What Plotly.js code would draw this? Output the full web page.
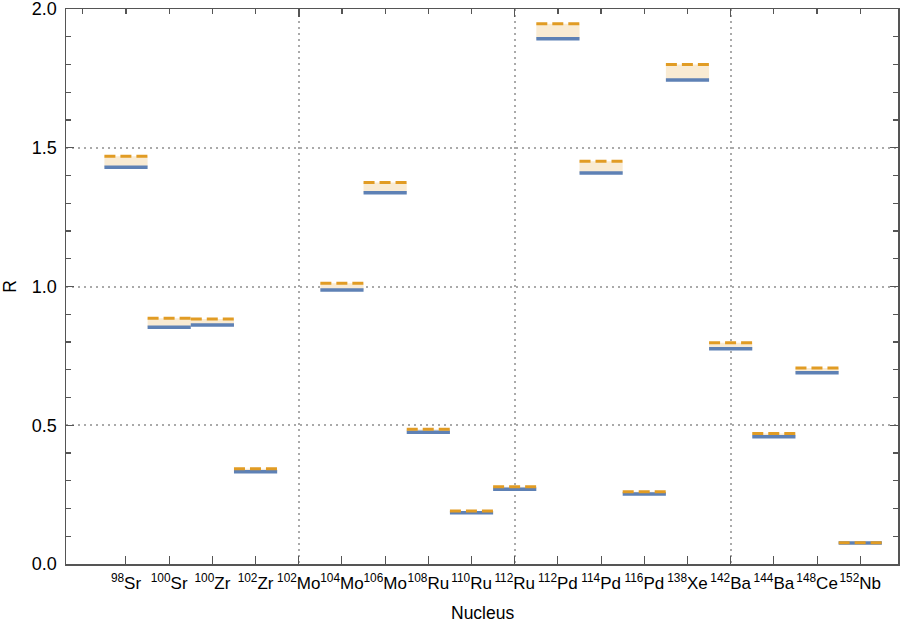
<!DOCTYPE html>
<html>
<head>
<meta charset="utf-8">
<script src="https://cdn.plot.ly/plotly-3.0.1.min.js"></script>
<style>
  html, body { margin: 0; padding: 0; background: #fff; }
  #plot { width: 900px; height: 623px; }
</style>
</head>
<body>
<div id="plot"></div>
<script>
// Núcleos (etiquetas del eje x)
const masas = [98, 100, 100, 102, 102, 104, 106, 108, 110, 112, 112, 114, 116, 138, 142, 144, 148, 152];
const elementos = ["Sr", "Sr", "Zr", "Zr", "Mo", "Mo", "Mo", "Ru", "Ru", "Ru", "Pd", "Pd", "Pd", "Xe", "Ba", "Ba", "Ce", "Nb"];

// Valores de R (línea azul sólida y línea naranja discontinua)
const rAzul = [1.430, 0.853, 0.861, 0.332, null, 0.987, 1.338, 0.475, 0.185, 0.269,
               1.893, 1.409, 0.252, 1.744, 0.776, 0.459, 0.689, 0.076];
const rNaranja = [1.469, 0.886, 0.883, 0.343, null, 1.012, 1.375, 0.486, 0.191, 0.278,
                  1.947, 1.451, 0.260, 1.800, 0.797, 0.470, 0.706, 0.077];

const posiciones = masas.map((m, i) => i + 1);
const etiquetas = masas.map((m, i) => `<sup>${m}</sup>${elementos[i]}`);

// Segmentos escalonados: cada núcleo ocupa de i-0.5 a i+0.5
function segmentos(vals) {
  const x = [], y = [];
  vals.forEach((v, i) => {
    if (v === null) return;
    const c = posiciones[i];
    x.push(c - 0.5, c + 0.5, null);
    y.push(v, v, null);
  });
  return { x, y };
}

// Relleno entre las dos curvas
const relleno = { x: [], y: [] };
rAzul.forEach((b, i) => {
  const o = rNaranja[i];
  if (b === null || o === null) return;
  const c = posiciones[i];
  relleno.x.push(c - 0.5, c + 0.5, c + 0.5, c - 0.5, c - 0.5, null);
  relleno.y.push(b, b, o, o, b, null);
});

const azul = segmentos(rAzul);
const naranja = segmentos(rNaranja);

// traza invisible para que se dibujen los ejes superpuestos
const invisible = (eje) => ({
  x: posiciones, y: rAzul, xaxis: eje, type: "scatter",
  mode: "markers", marker: { opacity: 0, size: 1 },
  hoverinfo: "skip", showlegend: false
});

const trazas = [
  {
    x: relleno.x, y: relleno.y, type: "scatter", mode: "lines",
    fill: "toself", fillcolor: "rgb(249,235,211)",
    line: { width: 0 }, hoverinfo: "skip", showlegend: false
  },
  {
    x: azul.x, y: azul.y, type: "scatter", mode: "lines",
    line: { color: "#5e81b5", width: 3.5 }, showlegend: false
  },
  {
    x: naranja.x, y: naranja.y, type: "scatter", mode: "lines",
    line: { color: "#e19c24", width: 3, dash: "11px,5px" }, showlegend: false
  },
  invisible("x2"),
  invisible("x3")
];

const fuente = "Liberation Sans, Arial, sans-serif";
const rangoX = [-0.389, 18.874];
const ejeColor = "#555";
const gridColor = "#aaaaaa";
const gridDash = "2px,4px";

const layout = {
  width: 900,
  height: 623,
  margin: { l: 66, r: 2, t: 9, b: 59 },
  paper_bgcolor: "#fff",
  plot_bgcolor: "#fff",
  font: { family: fuente, color: "#000" },
  // eje inferior con los núcleos
  xaxis: {
    range: rangoX,
    tickmode: "array",
    tickvals: posiciones,
    ticktext: etiquetas,
    tickangle: 0,
    ticks: "inside",
    ticklen: 8,
    tickwidth: 1,
    tickcolor: ejeColor,
    tickfont: { size: 17, family: fuente, color: "#000" },
    ticklabelstandoff: 3,
    showline: true,
    linecolor: ejeColor,
    linewidth: 1.5,
    showgrid: false,
    zeroline: false
  },
  // eje superior: marcas cortas cada 1
  xaxis2: {
    overlaying: "x",
    anchor: "y",
    side: "top",
    range: rangoX,
    tickmode: "linear",
    tick0: 0,
    dtick: 1,
    ticks: "inside",
    ticklen: 5,
    tickwidth: 1.2,
    tickcolor: ejeColor,
    showticklabels: false,
    showline: true,
    linecolor: ejeColor,
    linewidth: 1.5,
    showgrid: false,
    zeroline: false
  },
  // marcas largas y rejilla vertical en 5, 10, 15
  xaxis3: {
    overlaying: "x",
    anchor: "y",
    side: "top",
    range: rangoX,
    tickmode: "array",
    tickvals: [5, 10, 15],
    ticks: "inside",
    ticklen: 8,
    tickwidth: 1.5,
    tickcolor: ejeColor,
    showticklabels: false,
    showline: false,
    showgrid: true,
    gridcolor: gridColor,
    gridwidth: 2,
    griddash: gridDash,
    zeroline: false
  },
  yaxis: {
    range: [0, 2],
    tickmode: "array",
    tickvals: [0, 0.5, 1, 1.5, 2],
    tickformat: ".1f",
    ticks: "inside",
    ticklen: 8,
    tickwidth: 1.2,
    tickcolor: ejeColor,
    tickfont: { size: 18, family: fuente, color: "#000" },
    ticklabelstandoff: 4,
    ticklabeloverflow: "allow",
    showline: true,
    mirror: "ticks",
    linecolor: ejeColor,
    linewidth: 1.5,
    showgrid: true,
    gridcolor: gridColor,
    gridwidth: 2,
    griddash: gridDash,
    zeroline: false,
    minor: { tickmode: "linear", tick0: 0, dtick: 0.1, ticks: "inside", ticklen: 5, tickcolor: ejeColor, showgrid: false },
    title: { text: "R", font: { size: 17.5, family: fuente }, standoff: 14 }
  },
  annotations: [
    {
      text: "Nucleus", xref: "paper", yref: "paper", x: 0.5, y: -0.088,
      xanchor: "center", yanchor: "middle", showarrow: false,
      font: { size: 17.5, family: fuente, color: "#000" }
    }
  ]
};

Plotly.newPlot("plot", trazas, layout, { displayModeBar: false, staticPlot: true });
</script>
</body>
</html>
